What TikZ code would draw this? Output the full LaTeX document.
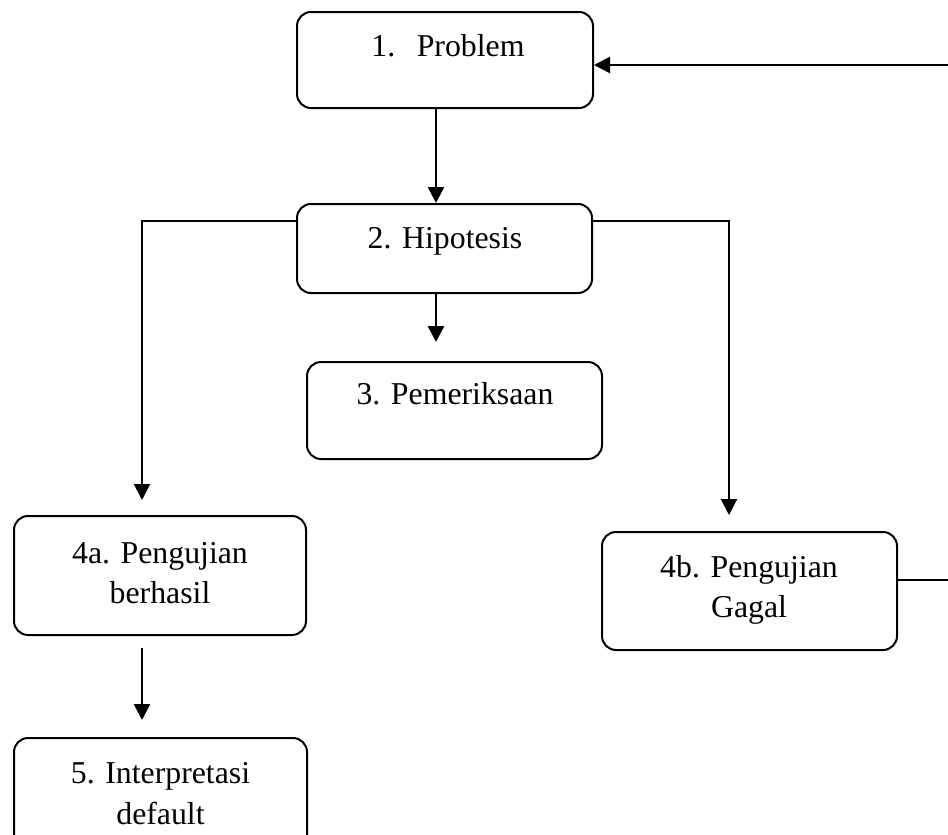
\documentclass[tikz,border=0pt]{standalone}
\usepackage{fontspec}
\setmainfont{Liberation Serif}
\usetikzlibrary{arrows.meta}
\tikzset{
  box/.style={draw=black, line width=2pt, rounded corners=14pt, inner sep=0pt},
  txt/.style={anchor=base, inner sep=0pt, font=\fontsize{31.8pt}{40pt}\selectfont},
  arr/.style={line width=2.6pt, -{Triangle[width=16pt,length=16pt]}},
  ln/.style={line width=2pt},
}
\begin{document}
\begin{tikzpicture}[x=1pt,y=-1pt]
\useasboundingbox (0,0) rectangle (948,835);
\clip (0,0) rectangle (948,835);
% boxes
\node[box, minimum width=296pt, minimum height=96pt] (p) at (445,60) {};
\node[box, minimum width=295pt, minimum height=89pt] (h) at (444.5,248.5) {};
\node[box, minimum width=295pt, minimum height=97pt] (c) at (454.5,410.5) {};
\node[box, minimum width=292pt, minimum height=119pt] (a) at (160,575.5) {};
\node[box, minimum width=295pt, minimum height=118pt] (b) at (749.5,591) {};
\node[box, minimum width=293pt, minimum height=118pt] (i) at (160.5,797) {};
% texts
\node[txt] (tp) at (448,56) {1.\hspace{21.5pt}Problem};
\node[txt] (th) at (445,248) {2. Hipotesis};
\node[txt] (tc) at (455,404) {3. Pemeriksaan};
\node[txt] (ta1) at (160,563) {4a. Pengujian};
\node[txt] (ta2) at (160,603) {berhasil};
\node[txt] (tb1) at (749,577) {4b. Pengujian};
\node[txt] (tb2) at (749,617) {Gagal};
\node[txt] (ti1) at (160.5,783) {5. Interpretasi};
\node[txt] (ti2) at (160.5,824) {default};
% free ends
\coordinate (hc) at (436,342);
\coordinate (ha) at (142,500);
\coordinate (hb) at (729,515);
\coordinate (ai) at (142,720);
\coordinate (as) at (142,648);
\coordinate (r) at (975,602);
% connectors
\draw[arr] ([xshift=-9pt]p.south) -- ([xshift=-9pt]p.south |- h.north);
\draw[arr] (hc |- h.south) -- (hc);
\draw[ln, -{Triangle[width=16pt,length=16pt]}] ([yshift=27.5pt]h.west) -| (ha);
\draw[ln, -{Triangle[width=16pt,length=16pt]}] ([yshift=27.5pt]h.east) -| (hb);
\draw[arr] (as) -- (ai);
\draw[line width=2.4pt] ([yshift=11pt]b.east) -- ([yshift=11pt]b.east -| r);
\draw[arr] ([yshift=11pt]b.east -| r) -- (r |- 0,65) -- (p.east |- 0,65);
\end{tikzpicture}
\end{document}
